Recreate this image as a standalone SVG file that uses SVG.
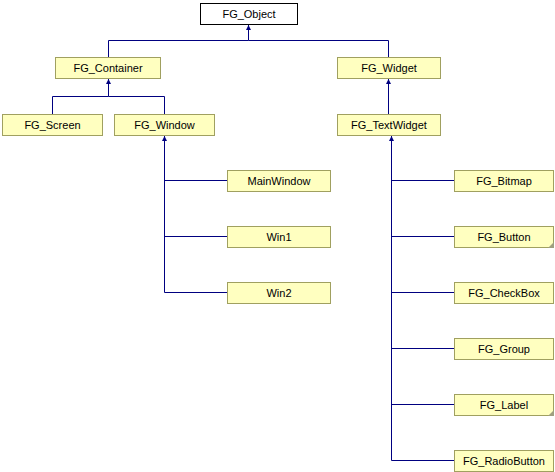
<svg xmlns="http://www.w3.org/2000/svg" width="555" height="472" viewBox="0 0 555 472">
<defs>
<style>
.n rect{fill:#ffffc0;stroke:#a0a060;stroke-width:1}
.root rect{fill:#ffffff;stroke:#000000}
text{font-family:"Liberation Sans",Arial,sans-serif;font-size:11px;fill:#000;text-anchor:middle}
.e{stroke:#000080;stroke-width:1;fill:none}
.fold{fill:#a0a080}
</style>
<marker id="a" viewBox="0 0 10 10" refX="10" refY="5" markerWidth="5" markerHeight="5" orient="auto" markerUnits="userSpaceOnUse"><path d="M0,0 L10,5 L0,10 z" fill="#000080"/></marker>
</defs>
<rect width="555" height="472" fill="#ffffff"/>
<g id="connectors">
<path class="e" d="M108.5,57 V40.5 H248.5" />
<path class="e" d="M388.5,57 V40.5 H248.5 V25" marker-end="url(#a)"/>
<path class="e" d="M52.5,114 V96.5 H108.5" />
<path class="e" d="M164.5,114 V96.5 H108.5 V79" marker-end="url(#a)"/>
<path class="e" d="M388.5,114 V79" marker-end="url(#a)"/>
<path class="e" d="M227,180.5 H164.5 M227,236.5 H164.5 M227,292.5 H164.5 V136" marker-end="url(#a)"/>
<path class="e" d="M454,180.5 H391.5 M454,236.5 H391.5 M454,292.5 H391.5 M454,348.5 H391.5 M454,404.5 H391.5 M454,460.5 H391.5 V136" marker-end="url(#a)"/>
</g>
<g id="FG_Object" class="n root"><rect x="200.5" y="3.5" width="97" height="21"/><text x="249" y="18">FG_Object</text></g>
<g id="FG_Container" class="n"><rect x="55.5" y="57.5" width="105" height="21"/><text x="108" y="72">FG_Container</text></g>
<g id="FG_Widget" class="n"><rect x="337.5" y="57.5" width="103" height="21"/><text x="389" y="72">FG_Widget</text></g>
<g id="FG_Screen" class="n"><rect x="2.5" y="114.5" width="100" height="21"/><text x="52.5" y="129">FG_Screen</text></g>
<g id="FG_Window" class="n"><rect x="114.5" y="114.5" width="100" height="21"/><text x="164.5" y="129">FG_Window</text></g>
<g id="FG_TextWidget" class="n"><rect x="337.5" y="114.5" width="103" height="21"/><text x="389" y="129">FG_TextWidget</text></g>
<g id="MainWindow" class="n"><rect x="227.5" y="170.5" width="103" height="21"/><text x="279" y="185">MainWindow</text></g>
<g id="Win1" class="n"><rect x="227.5" y="226.5" width="103" height="21"/><text x="279" y="241">Win1</text></g>
<g id="Win2" class="n"><rect x="227.5" y="282.5" width="103" height="21"/><text x="279" y="297">Win2</text></g>
<g id="FG_Bitmap" class="n"><rect x="454.5" y="170.5" width="99" height="21"/><text x="504" y="185">FG_Bitmap</text></g>
<g id="FG_Button" class="n"><rect x="454.5" y="226.5" width="99" height="21"/><text x="504" y="241">FG_Button</text><path class="fold" d="M554,242 V248 H548 z"/></g>
<g id="FG_CheckBox" class="n"><rect x="454.5" y="282.5" width="99" height="21"/><text x="504" y="297">FG_CheckBox</text></g>
<g id="FG_Group" class="n"><rect x="454.5" y="338.5" width="99" height="21"/><text x="504" y="353">FG_Group</text></g>
<g id="FG_Label" class="n"><rect x="454.5" y="394.5" width="99" height="21"/><text x="504" y="409">FG_Label</text><path class="fold" d="M554,410 V416 H548 z"/></g>
<g id="FG_RadioButton" class="n"><rect x="454.5" y="450.5" width="99" height="21"/><text x="504" y="465">FG_RadioButton</text></g>
</svg>
